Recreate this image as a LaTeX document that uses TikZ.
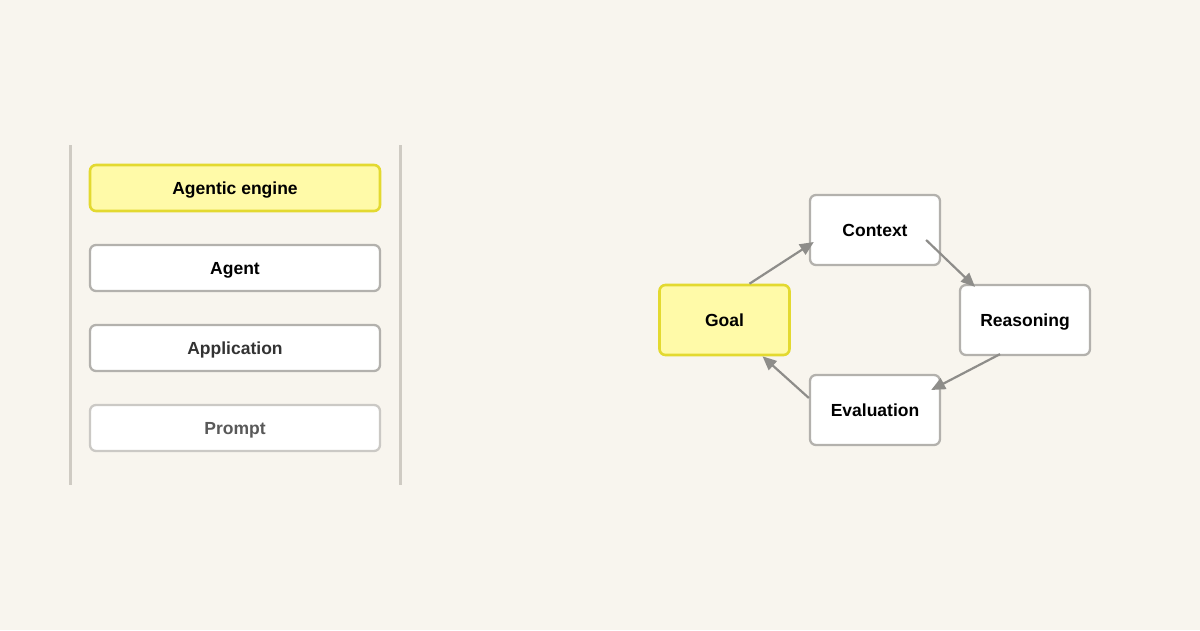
\documentclass[tikz,border=0pt]{standalone}
\usepackage{fontspec}
\setmainfont{Liberation Sans}
\usetikzlibrary{arrows.meta}
\definecolor{bg}{HTML}{F8F5EE}
\definecolor{rail}{HTML}{CFCBC3}
\definecolor{ylfill}{HTML}{FFFAA8}
\definecolor{yldraw}{HTML}{E3D930}
\definecolor{grdraw}{HTML}{B3B1AD}
\definecolor{ltdraw}{HTML}{CBC9C5}
\definecolor{arr}{HTML}{8E8D8A}
\tikzset{
  base/.style={rounded corners=6pt, line width=2.3pt, font=\fontsize{17.5}{20}\selectfont\bfseries, align=center, inner sep=0pt, text height=12.5pt, text depth=0pt},
  layer/.style={base, draw=grdraw, fill=white, minimum width=290pt, minimum height=46pt},
  hilayer/.style={layer, draw=yldraw, fill=ylfill, line width=2.6pt},
  loopbox/.style={base, draw=grdraw, fill=white, minimum width=130pt, minimum height=70pt},
  hiloop/.style={loopbox, draw=yldraw, fill=ylfill, line width=2.6pt},
  flow/.style={draw=arr, line width=2.2pt, -{Triangle[length=14pt,width=12pt]}},
  railline/.style={draw=rail, line width=3pt}
}
\begin{document}
\begin{tikzpicture}[x=1pt,y=-1pt]
\fill[bg] (0,0) rectangle (1200,630);
\useasboundingbox (0,0) rectangle (1200,630);
\coordinate (r1a) at (70,145); \coordinate (r1b) at (70,485);
\coordinate (r2a) at (400,145); \coordinate (r2b) at (400,485);
\draw[railline] (r1a) -- (r1b);
\draw[railline] (r2a) -- (r2b);
\node[hilayer, text=black] (eng) at (235,188) {Agentic engine};
\node[layer, text=black] (agent) at (235,268) {Agent};
\node[layer, text=black!80] (app) at (235,348) {Application};
\node[layer, draw=ltdraw, text=black!65] (prompt) at (235,428) {Prompt};
\node[loopbox] (ctx) at (875,230) {Context};
\node[hiloop] (goal) at (724.5,320) {Goal};
\node[loopbox] (rea) at (1025,320) {Reasoning};
\node[loopbox] (eva) at (875,410) {Evaluation};
\draw[flow] ([xshift=25pt]goal.north) -- ([yshift=-12pt,xshift=5pt]ctx.west);
\draw[flow] ([xshift=-15pt,yshift=-10pt]ctx.east) -- ([xshift=-50pt,yshift=-3pt]rea.north);
\draw[flow] ([xshift=-25pt,yshift=2pt]rea.south) -- ([xshift=-10pt,yshift=20pt]eva.east);
\draw[flow] ([yshift=12pt]eva.west) -- ([xshift=38pt]goal.south);
\end{tikzpicture}
\end{document}
